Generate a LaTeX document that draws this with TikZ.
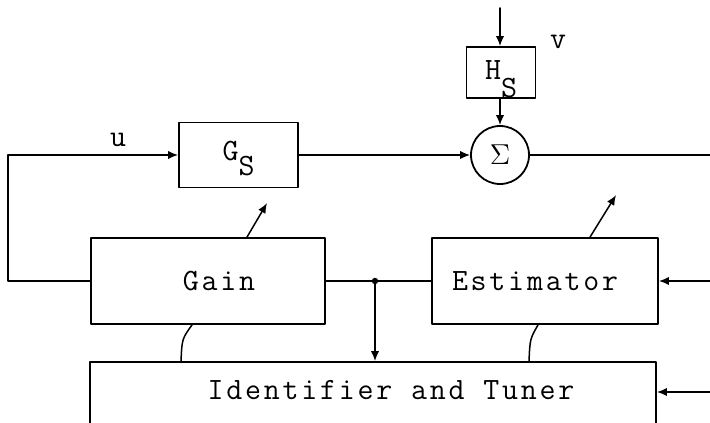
\documentclass[tikz,border=0pt]{standalone}
\usepackage{fontspec}
\setmonofont[LetterSpace=9]{Latin Modern Mono}
\usetikzlibrary{arrows.meta}

\begin{document}
\begin{tikzpicture}[x=0.5pt,y=-0.5pt,line cap=round,line join=round,>={Latex[length=5pt,width=4.2pt]},
  every node/.style={inner sep=1pt,font=\ttfamily\fontsize{15.5}{18}\selectfont},
  blk/.style={draw,line width=0.9pt,inner xsep=0pt,inner ysep=0pt},
  sig/.style={line width=0.75pt}]
  \useasboundingbox (0,0) rectangle (710,422);
  % plant and disturbance
  \node[blk,minimum width=59.5pt,text height=19pt,text depth=13.5pt] (gs) at (238.5,155) {G\raisebox{-0.48em}{S}};
  \node[blk,minimum width=34.5pt,text height=16.5pt,text depth=9pt] (hs) at (501,72.5) {H\raisebox{-0.55em}{S}};
  \node[draw,circle,line width=0.9pt,minimum size=29pt,inner sep=0pt] (sum) at (500,155) {$\Sigma$};
  \node (vlab) at (558,42) {v};
  \node (ulab) at (118,140) {u};
  % regulator
  \node[blk,minimum width=117pt,minimum height=43pt] (gain) at (208,281) {\hspace*{11pt}Gain};
  \node[blk,minimum width=113pt,minimum height=43pt] (est) at (545,281) {Estimator\hspace*{10pt}};
  \node[blk,minimum width=283pt,text height=18.5pt,text depth=35.5pt] (id) at (373,416) {\hspace*{18pt}Identifier and Tuner};
  \coordinate (vin) at (500,8);
  \coordinate (yout) at (710,155);
  \coordinate (fbl) at (8,281);
  \coordinate (jn) at (375,281);
  \coordinate (yin1) at (710,281);
  \coordinate (yin2) at (710,392);
  % signal lines
  \draw[sig,->] (vin) -- (vin |- hs.north);
  \draw[sig,->] (hs.south -| sum) -- (sum.north);
  \draw[sig,->] (gs.east) -- (sum.west);
  \draw[sig] (sum.east) -- (yout);
  \draw[sig,->] (gain.west) -- (fbl) |- (gs.west);
  \draw[sig] (gain.east) -- (jn) -- (est.west);
  \fill (jn) circle (1.6pt);
  \draw[sig,->] (jn) -- (jn |- id.north);
  \draw[sig,->] (yin1) -- (est.east);
  \draw[sig,->] (yin2) -- (yin2 -| id.east);
  % tuning
  \draw[sig,->] ([xshift=19.5pt]gain.north) -- ++(20,-34);
  \draw[sig,->] ([xshift=22.5pt]est.north) -- ++(26,-42);
  \draw[sig] ([xshift=-8pt]gain.south) .. controls +(-10,14) .. ([xshift=-96pt]id.north);
  \draw[sig] ([xshift=-3.5pt]est.south) .. controls +(-8,14) .. ([xshift=78pt]id.north);
\end{tikzpicture}
\end{document}
